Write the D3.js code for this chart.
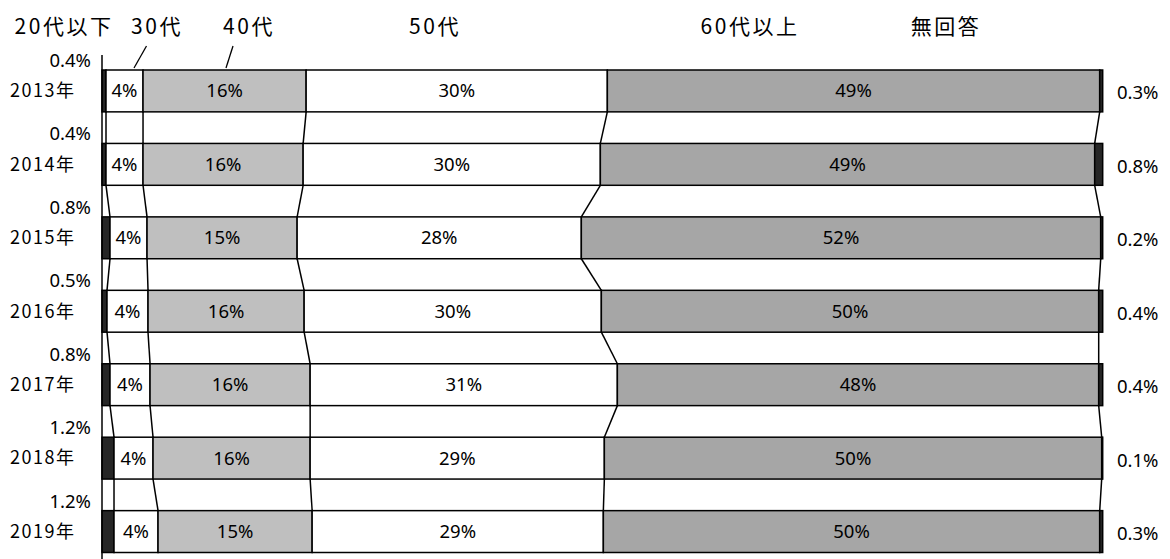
<!DOCTYPE html>
<html>
<head>
<meta charset="utf-8">
<script src="https://cdn.jsdelivr.net/npm/d3@7"></script>
<style>
  body { margin: 0; background: #fff; }
  svg text { font-family: "Noto Sans CJK JP", "Noto Sans", sans-serif; fill: #000; }
  .pct { font-family: "Noto Sans", "Noto Sans CJK JP", sans-serif; font-size: 18.5px; }
  .year { font-size: 18px; letter-spacing: 1.5px; }
  .head { font-size: 21px; letter-spacing: 2.5px; }
</style>
</head>
<body>
<svg id="chart" width="1170" height="559"></svg>
<script>
// DATA (percent of respondents per year)
const years = ['2013年', '2014年', '2015年', '2016年', '2017年', '2018年', '2019年'];
const categories = ['20代以下', '30代', '40代', '50代', '60代以上', '無回答'];

const under20 = [0.4, 0.4, 0.8, 0.5, 0.8, 1.2, 1.2];
const age30 = [3.7, 3.7, 3.7, 4.1, 4.0, 3.9, 4.4];
const age40 = [16.3, 16.0, 15.0, 15.6, 16.0, 15.7, 15.4];
const age50 = [30.1, 29.7, 28.4, 29.7, 30.7, 29.4, 29.1];
const over60 = [49.2, 49.4, 51.9, 49.7, 48.1, 49.7, 49.6];
const noAnswer = [0.3, 0.8, 0.2, 0.4, 0.4, 0.1, 0.3];

// LAYOUT
const BAR_LEFT = 102;
const BAR_RIGHT = 1102.7;
const BAR_TOP = 70;
const BAR_BOTTOM = 552.5;
const colors = ['#262626', '#ffffff', '#bfbfbf', '#ffffff', '#a6a6a6', '#262626'];
// header positions were placed by hand in the original, not on segment centres
const headerX = [64, 157, 249, 435, 750, 946];

let svg = d3.select('#chart');

// build the table d3.stack wants
let series = [under20, age30, age40, age50, over60, noAnswer];
let table = years.map((yr, i) => {
	let row = { year: yr };
	categories.forEach((c, k) => { row[c] = series[k][i]; });
	return row;
});
let stacked = d3.stack().keys(categories)(table);

let x = d3.scaleLinear().domain([0, 100]).range([BAR_LEFT, BAR_RIGHT]);
let y = d3.scaleBand().domain(years).range([BAR_TOP, BAR_BOTTOM]).paddingInner(0.43).paddingOuter(0);
let bw = y.bandwidth();

// connector lines between bars at every inner boundary
let connectors = svg.append('g');
for (let k = 0; k < categories.length - 1; k++) {
	let layer = stacked[k];
	for (let i = 0; i < years.length - 1; i++) {
		connectors.append('line')
			.attr('x1', x(layer[i][1])).attr('y1', y(years[i]) + bw)
			.attr('x2', x(layer[i + 1][1])).attr('y2', y(years[i + 1]))
			.attr('stroke', '#000').attr('stroke-width', 1.5);
	}
}

// bars
svg.append('g').selectAll('g')
	.data(stacked)
	.join('g')
	.attr('fill', (d, k) => colors[k])
	.selectAll('rect')
	.data(d => d)
	.join('rect')
	.attr('x', d => x(d[0]))
	.attr('y', d => y(d.data.year))
	.attr('width', d => x(d[1]) - x(d[0]))
	.attr('height', bw)
	.attr('stroke', '#000')
	.attr('stroke-width', 1.5);

// left axis line
svg.append('line')
	.attr('x1', x(0)).attr('x2', x(0))
	.attr('y1', 55).attr('y2', 559)
	.attr('stroke', '#000').attr('stroke-width', 1.5);

// year labels
svg.append('g').selectAll('text')
	.data(years)
	.join('text')
	.attr('class', 'year')
	.attr('x', 10)
	.attr('y', d => y(d) + bw / 2)
	.attr('dy', '0.35em')
	.text(d => d);

let fmtInt = d => Math.round(d) + '%';
let fmtDec = d => d3.format('.1f')(d) + '%';

// inner segment labels (30代 .. 60代以上)
for (let k = 1; k <= 4; k++) {
	svg.append('g').selectAll('text')
		.data(stacked[k])
		.join('text')
		.attr('class', 'pct')
		.attr('text-anchor', 'middle')
		.attr('x', d => (x(d[0]) + x(d[1])) / 2)
		.attr('y', d => y(d.data.year) + bw / 2)
		.attr('dy', '0.35em')
		.text((d, i) => fmtInt(series[k][i]));
}

// 20代以下 labels sit above each bar on the left
svg.append('g').selectAll('text')
	.data(under20)
	.join('text')
	.attr('class', 'pct')
	.attr('text-anchor', 'end')
	.attr('x', 91)
	.attr('y', (d, i) => y(years[i]) - 3)
	.text(d => fmtDec(d));

// 無回答 labels on the right
svg.append('g').selectAll('text')
	.data(noAnswer)
	.join('text')
	.attr('class', 'pct')
	.attr('x', 1117)
	.attr('y', (d, i) => y(years[i]) + bw / 2 + 2)
	.attr('dy', '0.35em')
	.text(d => fmtDec(d));

// category headers
svg.append('g').selectAll('text')
	.data(categories)
	.join('text')
	.attr('class', 'head')
	.attr('text-anchor', 'middle')
	.attr('x', (d, k) => headerX[k])
	.attr('y', 27)
	.attr('dy', '0.35em')
	.text(d => d);

// leader lines from 30代 / 40代 headers down to the first bar
let leaders = [[1, 146.5, 134], [2, 233, 226]];
for (let [k, xTop, xBottom] of leaders) {
	svg.append('line')
		.attr('x1', xTop).attr('y1', 46)
		.attr('x2', xBottom).attr('y2', y(years[0]) - 2)
		.attr('stroke', '#000').attr('stroke-width', 1.3);
}
</script>
</body>
</html>
